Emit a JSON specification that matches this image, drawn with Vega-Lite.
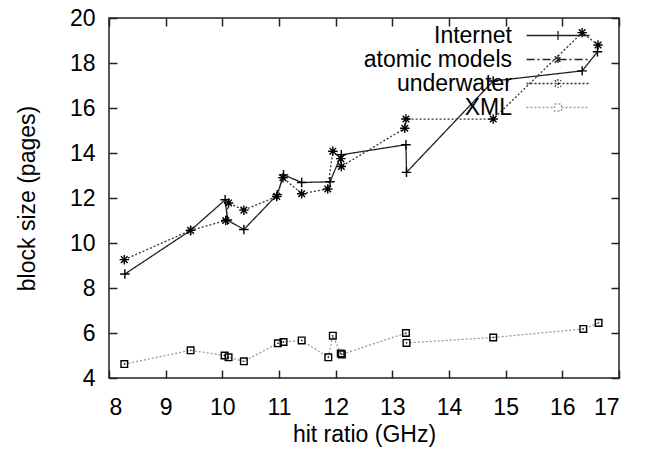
{
  "$schema": "https://vega.github.io/schema/vega-lite/v6.json",
  "width": 510,
  "height": 360,
  "autosize": {"type": "none"},
  "padding": {"left": 109, "top": 18, "right": 28, "bottom": 72},
  "background": "white",
  "config": {
    "view": {"stroke": "#222", "strokeWidth": 1.5},
    "font": "Liberation Sans",
    "axis": {
      "labelFont": "Liberation Sans",
      "titleFont": "Liberation Sans",
      "labelFontSize": 23,
      "titleFontSize": 23,
      "titleFontWeight": "normal",
      "labelColor": "black",
      "titleColor": "black",
      "grid": false,
      "domain": false,
      "tickColor": "#222",
      "tickWidth": 1.5,
      "tickSize": -8
    }
  },
  "data": {
    "values": [
      {"s": "Internet", "h": 8.28, "b": 8.62},
      {"s": "Internet", "h": 9.44, "b": 10.56},
      {"s": "Internet", "h": 10.05, "b": 11.92},
      {"s": "Internet", "h": 10.09, "b": 11.02},
      {"s": "Internet", "h": 10.38, "b": 10.6},
      {"s": "Internet", "h": 10.97, "b": 12.15},
      {"s": "Internet", "h": 11.08, "b": 13.03},
      {"s": "Internet", "h": 11.4, "b": 12.69},
      {"s": "Internet", "h": 11.9, "b": 12.72},
      {"s": "Internet", "h": 12.1, "b": 13.92},
      {"s": "Internet", "h": 13.24, "b": 14.37},
      {"s": "Internet", "h": 13.25, "b": 13.14},
      {"s": "Internet", "h": 14.78, "b": 17.2},
      {"s": "Internet", "h": 16.35, "b": 17.65},
      {"s": "Internet", "h": 16.62, "b": 18.5},
      {"s": "underwater", "h": 8.27, "b": 9.26},
      {"s": "underwater", "h": 9.44, "b": 10.56},
      {"s": "underwater", "h": 10.06, "b": 11.0},
      {"s": "underwater", "h": 10.11, "b": 11.78},
      {"s": "underwater", "h": 10.38, "b": 11.46},
      {"s": "underwater", "h": 10.96, "b": 12.07},
      {"s": "underwater", "h": 11.07, "b": 12.9},
      {"s": "underwater", "h": 11.4, "b": 12.19},
      {"s": "underwater", "h": 11.86, "b": 12.4},
      {"s": "underwater", "h": 11.95, "b": 14.08},
      {"s": "underwater", "h": 12.09, "b": 13.75},
      {"s": "underwater", "h": 12.1, "b": 13.4},
      {"s": "underwater", "h": 13.22, "b": 15.1},
      {"s": "underwater", "h": 13.24, "b": 15.51},
      {"s": "underwater", "h": 14.78, "b": 15.51},
      {"s": "underwater", "h": 16.35, "b": 19.35},
      {"s": "underwater", "h": 16.63, "b": 18.8},
      {"s": "XML", "h": 8.27, "b": 4.62},
      {"s": "XML", "h": 9.44, "b": 5.23},
      {"s": "XML", "h": 10.04, "b": 5.0},
      {"s": "XML", "h": 10.11, "b": 4.92},
      {"s": "XML", "h": 10.38, "b": 4.74},
      {"s": "XML", "h": 10.98, "b": 5.54},
      {"s": "XML", "h": 11.08, "b": 5.6},
      {"s": "XML", "h": 11.4, "b": 5.67},
      {"s": "XML", "h": 11.87, "b": 4.92},
      {"s": "XML", "h": 11.95, "b": 5.88},
      {"s": "XML", "h": 12.09, "b": 5.09},
      {"s": "XML", "h": 12.11, "b": 5.05},
      {"s": "XML", "h": 13.24, "b": 6.0},
      {"s": "XML", "h": 13.25, "b": 5.56},
      {"s": "XML", "h": 14.78, "b": 5.8},
      {"s": "XML", "h": 16.37, "b": 6.18},
      {"s": "XML", "h": 16.64, "b": 6.45}
    ]
  },
  "layer": [
    {
      "mark": {"type": "line", "strokeWidth": 1.3},
      "encoding": {
        "x": {
          "field": "h", "type": "quantitative",
          "scale": {"domain": [8, 17], "nice": false, "zero": false},
          "axis": {"values": [8, 9, 10, 11, 12, 13, 14, 15, 16, 17], "title": "hit ratio (GHz)", "labelPadding": 26, "titlePadding": 4}
        },
        "y": {
          "field": "b", "type": "quantitative",
          "scale": {"domain": [4, 20], "nice": false, "zero": false},
          "axis": {"values": [4, 6, 8, 10, 12, 14, 16, 18, 20], "title": "block size (pages)", "labelPadding": 22, "titlePadding": 30}
        },
        "color": {
          "field": "s", "type": "nominal",
          "scale": {"domain": ["Internet", "atomic models", "underwater", "XML"], "range": ["#222222", "#222222", "#333333", "#999999"]},
          "legend": {
            "orient": "none",
            "legendX": 437.5,
            "legendY": 6,
            "title": null,
            "labelFont": "Liberation Sans",
            "labelFontSize": 23,
            "labelColor": "black",
            "labelAlign": "right",
            "labelOffset": -57.5,
            "labelLimit": 0,
            "symbolSize": 100,
            "symbolStrokeWidth": 1.3,
            "rowPadding": 0,
            "padding": 0,
            "encode": {
              "symbols": {
                "update": {
                  "shape": {"signal": "datum.value === 'Internet' ? 'M-6.3,0L6.3,0M0,-0.9L0,0.9' : datum.value === 'atomic models' ? 'M-6.3,0L6.3,0M-0.65,-0.65L0.65,0.65M-0.65,0.65L0.65,-0.65M0,-0.9L0,0.9' : datum.value === 'underwater' ? 'M-6.3,0L6.3,0M0,-0.9L0,0.9M-0.65,-0.65L0.65,0.65M-0.65,0.65L0.65,-0.65' : 'M-6.3,0L-0.7,0M0.7,0L6.3,0M-0.7,-0.7L0.7,-0.7L0.7,0.7L-0.7,0.7Z'"},
                  "fill": {"value": "transparent"}
                }
              }
            }
          }
        },
        "strokeDash": {
          "field": "s", "type": "nominal",
          "scale": {"domain": ["Internet", "atomic models", "underwater", "XML"], "range": [[1, 0], [8, 3, 2, 3], [2, 2], [2, 2]]},
          "legend": null
        }
      }
    },
    {
      "transform": [{"filter": "datum.s === 'Internet'"}],
      "mark": {"type": "point", "filled": false, "stroke": "black", "strokeWidth": 1.4, "size": 90, "opacity": 1, "shape": "M-1,0L1,0M0,-1L0,1"},
      "encoding": {
        "x": {
          "field": "h", "type": "quantitative",
          "axis": {"orient": "top", "values": [8, 9, 10, 11, 12, 13, 14, 15, 16, 17], "labels": false, "title": null}
        },
        "y": {
          "field": "b", "type": "quantitative",
          "axis": {"orient": "right", "values": [4, 6, 8, 10, 12, 14, 16, 18, 20], "labels": false, "title": null}
        }
      }
    },
    {
      "transform": [{"filter": "datum.s === 'underwater'"}],
      "mark": {"type": "point", "filled": false, "stroke": "black", "strokeWidth": 1.4, "size": 90, "opacity": 1, "shape": "M-1,0L1,0M0,-1L0,1M-0.7,-0.7L0.7,0.7M-0.7,0.7L0.7,-0.7"},
      "encoding": {
        "x": {"field": "h", "type": "quantitative", "axis": null},
        "y": {"field": "b", "type": "quantitative", "axis": null}
      }
    },
    {
      "transform": [{"filter": "datum.s === 'XML'"}],
      "mark": {"type": "point", "filled": false, "stroke": "black", "strokeWidth": 1.4, "size": 90, "opacity": 1, "shape": "M-0.7,-0.7L0.7,-0.7L0.7,0.7L-0.7,0.7ZM-0.12,0L0.12,0"},
      "encoding": {
        "x": {"field": "h", "type": "quantitative", "axis": null},
        "y": {"field": "b", "type": "quantitative", "axis": null}
      }
    }
  ],
  "resolve": {"axis": {"x": "independent", "y": "independent"}}
}
